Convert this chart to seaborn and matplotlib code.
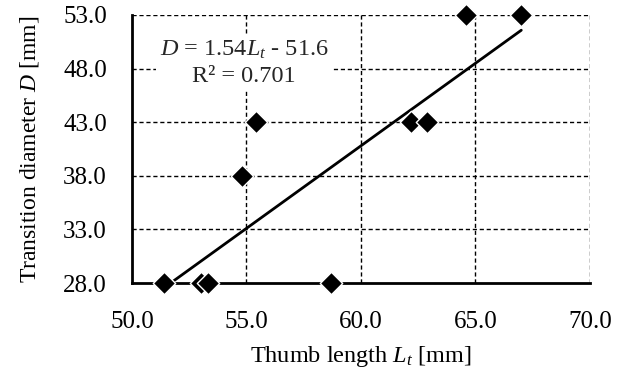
import matplotlib
matplotlib.use("Agg")
import matplotlib.pyplot as plt
import numpy as np
import pandas as pd
import seaborn as sns

# 拇指长度与过渡直径
thumb_length = [51.4, 53.0, 53.3, 58.7, 54.8, 55.4, 62.2, 62.9, 64.6, 67.0]
transition_d = [28.0, 28.0, 28.0, 28.0, 38.0, 43.0, 43.0, 43.0, 53.0, 53.0]
slope, intercept = 1.54, -51.6
r2 = 0.701
x_ticks = [50.0, 55.0, 60.0, 65.0, 70.0]
y_ticks = [28.0, 33.0, 38.0, 43.0, 48.0, 53.0]

data = pd.DataFrame({"L": thumb_length, "D": transition_d})

sns.set_theme(style="white")
plt.rcParams['font.family'] = ['Liberation Serif', 'DejaVu Serif']
plt.rcParams['mathtext.fontset'] = 'custom'
plt.rcParams['mathtext.rm'] = 'Liberation Serif'
plt.rcParams['mathtext.it'] = 'Liberation Serif:italic'

fig = plt.figure(figsize=(6.2, 3.72), dpi=100)
ax = fig.add_axes([0.2129, 0.2392, 0.7387, 0.7205])

# 网格
for xv in x_ticks[1:]:
    ax.axvline(xv, color='black', lw=1, ls=(0, (3, 2)), zorder=1)
for yv in y_ticks[1:]:
    ax.axhline(yv, color='black', lw=1, ls=(0, (3, 2)), zorder=1)

# 趋势线
xs = np.array([min(thumb_length), max(thumb_length)])
ax.plot(xs, slope * xs + intercept, color='black', lw=2, zorder=3, clip_on=False)

sns.scatterplot(data=data, x="L", y="D", marker='D', s=130, color='black',
                edgecolor='white', linewidth=1, zorder=4, clip_on=False, ax=ax)

ax.set_xlim(50, 70)
ax.set_ylim(28, 53)
ax.set_xticks(x_ticks)
ax.set_yticks(y_ticks)
ax.set_xticklabels([f'{v:.1f}' for v in x_ticks])
ax.set_yticklabels([f'{v:.1f}' for v in y_ticks])
ax.tick_params(axis='x', direction='in', length=4, width=1.5, labelsize=18, pad=20, colors='black')
ax.tick_params(axis='y', direction='out', length=3, width=1.5, labelsize=18, pad=15, colors='black')

for s in ['top', 'right']:
    ax.spines[s].set_visible(False)
for s in ['left', 'bottom']:
    ax.spines[s].set_color('black')
    ax.spines[s].set_linewidth(2)

ax.set_xlabel('Thumb length $L_t$ [mm]', fontsize=17.5, labelpad=8, color='black')
ax.set_ylabel('Transition diameter $D$ [mm]', fontsize=17, labelpad=16, color='black')

ax.text(54.9, 48.5, f'$D$ = {slope:.2f}$L_t$ - {abs(intercept):.1f}\nR² = {r2:.3f}',
        ha='center', va='center', fontsize=17.5, linespacing=1.3, zorder=5,
        bbox=dict(facecolor='white', edgecolor='none', pad=3))

plt.savefig('out.png', dpi=100)
